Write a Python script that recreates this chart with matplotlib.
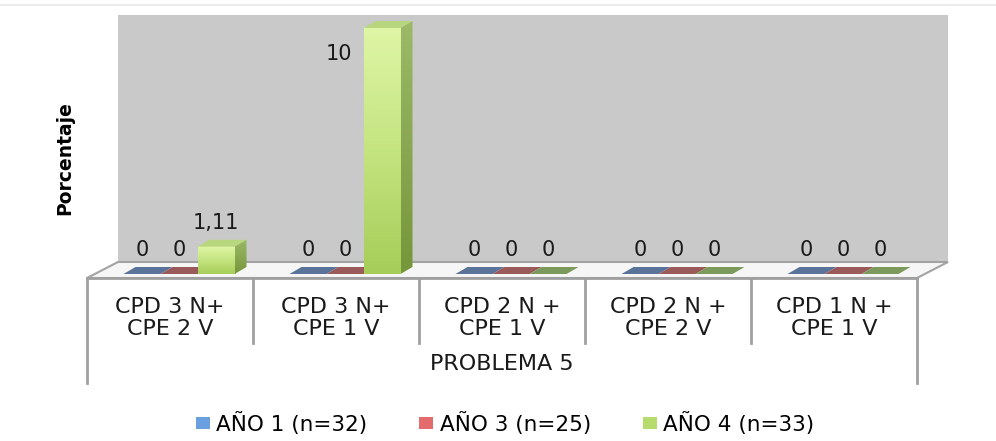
"""Excel-style pseudo-3D clustered bars for PROBLEMA 5."""

import matplotlib

matplotlib.use("Agg")

import matplotlib.pyplot as plt
import numpy as np
from matplotlib.colors import LinearSegmentedColormap
from matplotlib.patches import Patch, Polygon, Rectangle

categories = [
    "CPD 3 N+\nCPE 2 V",
    "CPD 3 N+\nCPE 1 V",
    "CPD 2 N +\nCPE 1 V",
    "CPD 2 N +\nCPE 2 V",
    "CPD 1 N +\nCPE 1 V",
]
group_label = "PROBLEMA 5"
series_names = ["AÑO 1 (n=32)", "AÑO 3 (n=25)", "AÑO 4 (n=33)"]
ano1 = [0, 0, 0, 0, 0]
ano3 = [0, 0, 0, 0, 0]
ano4 = [1.11, 10, 0, 0, 0]
ylabel = "Porcentaje"

series_values = [ano1, ano3, ano4]
flat_colors = ["#5a7499", "#9a5a5a", "#7b9a5c"]
legend_colors = ["#6a9fe0", "#e46b6b", "#b6dc6e"]

W, H = 996, 441
fig = plt.figure(figsize=(W / 100, H / 100), dpi=100)
fig.patch.set_facecolor("white")

# faint outer border at the top
fig.add_artist(plt.Line2D([0, 1], [1 - 5 / H, 1 - 5 / H], color="#ececec", lw=1.5))

# front plane of the plot in pixel space
left_px, right_px, top_px, floor_px = 87, 917, 15, 278
zero_px = 274
px_per_unit = 24.6
ax = fig.add_axes([left_px / W, 1 - floor_px / H, (right_px - left_px) / W, (floor_px - top_px) / H])
ax.axis("off")
ylim = (-(floor_px - zero_px) / px_per_unit, (zero_px - top_px) / px_per_unit)

ux = 1 / ((right_px - left_px) / len(categories))  # data units per px in x
uy = 1 / px_per_unit


def py(p):
    return (zero_px - p) * uy


# back wall + floor
wall_dx, floor_back = 31 * ux, py(262)
x0, x1 = -0.5, len(categories) - 0.5
ax.add_patch(Rectangle((x0 + wall_dx, floor_back), x1 - x0, ylim[1] - floor_back,
                       facecolor="#c9c9c9", edgecolor="none", zorder=0, clip_on=False))
ax.add_patch(Polygon([(x0, py(floor_px)), (x1, py(floor_px)), (x1 + wall_dx, floor_back),
                      (x0 + wall_dx, floor_back)], closed=True, facecolor="#f6f6f6",
                     edgecolor="#a3a3a3", lw=1.5, zorder=1, clip_on=False))

# bars
bw = 37 * ux
step = 37 * ux
shift = 9 * ux
ddx, ddy = 12 * ux, 7 * uy
green_front = LinearSegmentedColormap.from_list("gf", ["#a6cd58", "#c4e480", "#dff6a6"])
green_side = LinearSegmentedColormap.from_list("gs", ["#76963a", "#9cba68"])
grad = np.linspace(0, 1, 256).reshape(-1, 1)

for j, vals in enumerate(series_values):
    for i, v in enumerate(vals):
        xc = i + shift + (j - 1) * step
        l, r = xc - bw / 2, xc + bw / 2
        if v > 0:
            ax.imshow(grad, extent=(l, r, 0, v), origin="lower", cmap=green_front,
                      aspect="auto", zorder=3)
            side = Polygon([(r, 0), (r + ddx, ddy), (r + ddx, v + ddy), (r, v)], closed=True,
                           facecolor="none", edgecolor="none", zorder=3)
            ax.add_patch(side)
            im = ax.imshow(grad, extent=(r, r + ddx, 0, v + ddy), origin="lower",
                           cmap=green_side, aspect="auto", zorder=3)
            im.set_clip_path(side)
            ax.add_patch(Polygon([(l, v), (r, v), (r + ddx, v + ddy), (l + ddx, v + ddy)],
                                 closed=True, facecolor="#b7d67e", edgecolor="none", zorder=3))
        else:
            ax.add_patch(Polygon([(l, 0), (r, 0), (r + ddx, ddy), (l + ddx, ddy)], closed=True,
                                 facecolor=flat_colors[j], edgecolor="none", zorder=2))
        label = f"{v:g}".replace(".", ",")
        if v + ddy + 30 * uy > ylim[1]:
            ax.annotate(label, (l, v), xytext=(-8, -19), textcoords="offset points",
                        ha="right", va="center", fontsize=15, color="#1a1a1a", zorder=5)
        else:
            ax.annotate(label, (xc, v + ddy), xytext=(0, 12), textcoords="offset points",
                        ha="center", va="center", fontsize=15, color="#1a1a1a", zorder=5)

ax.set_xlim(x0, x1)
ax.set_ylim(*ylim)

# category table below
line_kw = dict(color="#a0a0a0", lw=2, clip_on=False, zorder=2)
ax.plot([x0, x1], [py(floor_px), py(floor_px)], **line_kw)
for k in range(len(categories) + 1):
    bottom = py(383) if k in (0, len(categories)) else py(343)
    ax.plot([x0 + k, x0 + k], [py(floor_px), bottom], **line_kw)
for i, cat in enumerate(categories):
    ax.text(i, py(318), cat, ha="center", va="center", fontsize=16, linespacing=1.18,
            color="#1a1a1a", clip_on=False)
ax.text((len(categories) - 1) / 2, py(364), group_label, ha="center", va="center",
        fontsize=16, color="#1a1a1a", clip_on=False)

fig.text(65 / W, 1 - 158 / H, ylabel, rotation=90, ha="center", va="center",
         fontsize=13.5, fontweight="bold")

handles = [Patch(facecolor=c, edgecolor="none") for c in legend_colors]
fig.legend(handles, series_names, loc="center", bbox_to_anchor=(505 / W, 1 - 423 / H),
           ncol=3, frameon=False, fontsize=15.5, handlelength=0.65, handleheight=0.5,
           handletextpad=0.3, columnspacing=2.4)

fig.savefig("out.png", dpi=100)
